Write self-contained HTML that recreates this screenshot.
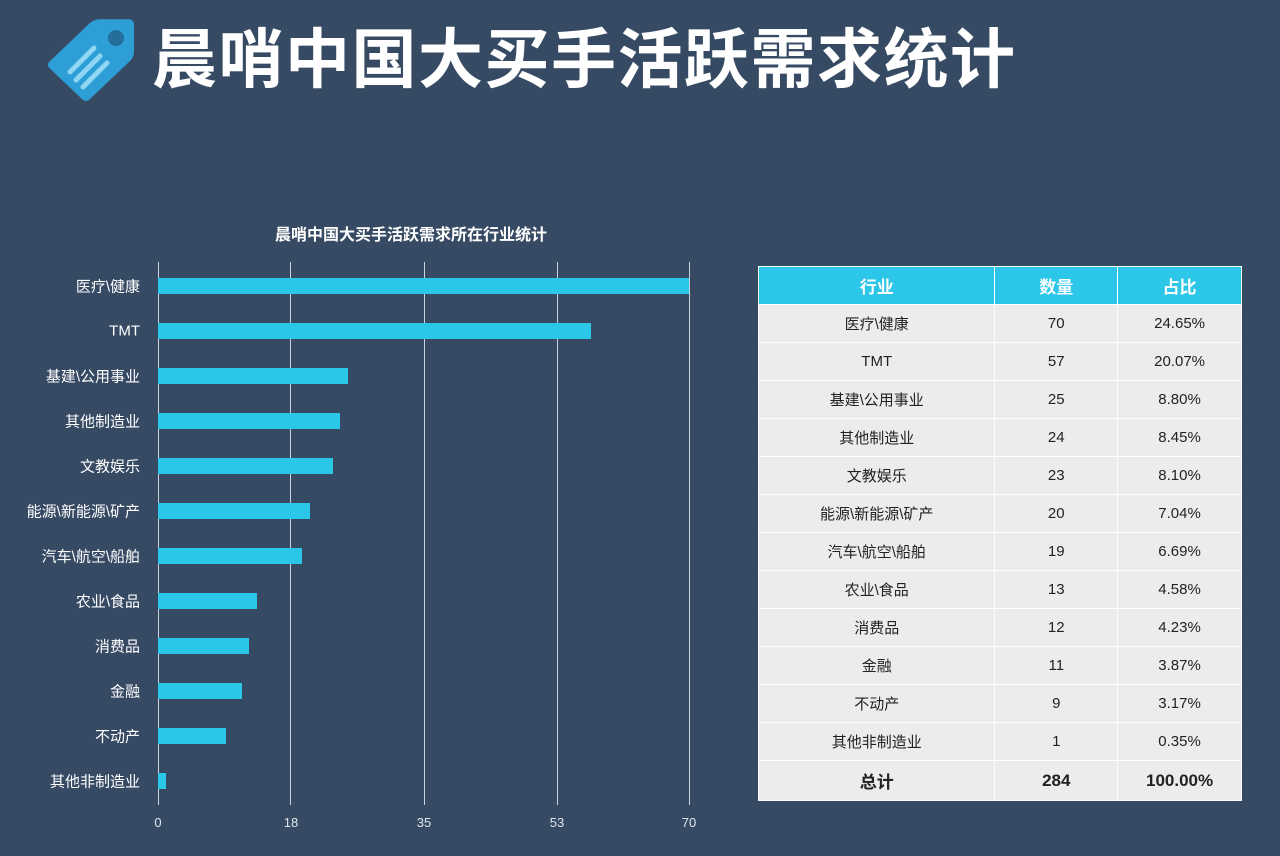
<!DOCTYPE html>
<html><head><meta charset="utf-8"><style>
body{margin:0;width:1280px;height:856px;background:#364a64;overflow:hidden;font-family:"Liberation Sans","Noto Sans CJK SC",sans-serif;position:relative}
.t{position:absolute;left:152px;top:20px;font-size:65px;font-weight:bold;color:#fff;letter-spacing:1.5px;line-height:80px;white-space:nowrap}
.ct{position:absolute;left:275px;top:221px;font-size:16px;font-weight:bold;color:#fff}
.lb{position:absolute;right:1140px;font-size:15px;color:#fff;white-space:nowrap;transform:translateY(-50%)}
.bar{position:absolute;left:158px;height:16px;background:#2cc6e8}
.gl{position:absolute;top:262px;height:543px;width:1px;background:#c9d3de}
.tk{position:absolute;top:815px;font-size:13px;color:#e0e6ee;transform:translateX(-50%)}
table{position:absolute;left:758px;top:266px;width:484px;border-collapse:collapse;font-size:15px;color:#222}
td{text-align:center;height:37px;padding:0;border:1px solid #fff;background:#ececec}
tr.h td{background:#2cc6e8;color:#fff;font-weight:bold;font-size:17px;height:37px}
tr.f td{font-weight:bold;font-size:17px;height:39px}
</style></head><body>
<svg style="position:absolute;left:40px;top:14px" width="100" height="100" viewBox="0 0 100 100">
<path d="M10 60 L50 20 Q54 16 60 16 L88 16 Q94 16 94 22 L94 50 Q94 56 90 60 L50 100 Q46 104 42 100 L10 68 Q6 64 10 60Z" fill="#2e9fd6" transform="translate(0,-10) scale(1,0.95)"/>
<circle cx="76" cy="24" r="8" fill="#236e9a"/>
<g stroke="#8fd6f3" stroke-width="5" stroke-linecap="round"><line x1="30" y1="58" x2="54" y2="34"/><line x1="36" y1="66" x2="60" y2="42"/><line x1="43" y1="73" x2="67" y2="49"/></g>
</svg>
<div class="t">晨哨中国大买手活跃需求统计</div>
<div class="ct">晨哨中国大买手活跃需求所在行业统计</div>
<div class="gl" style="left:158px"></div><div class="gl" style="left:290px"></div><div class="gl" style="left:424px"></div><div class="gl" style="left:557px"></div><div class="gl" style="left:689px"></div>
<div class="tk" style="left:158px">0</div><div class="tk" style="left:291px">18</div><div class="tk" style="left:424px">35</div><div class="tk" style="left:557px">53</div><div class="tk" style="left:689px">70</div>
<div class="bar" style="top:278px;width:531px"></div><div class="lb" style="top:286px">医疗\健康</div>
<div class="bar" style="top:323px;width:433px"></div><div class="lb" style="top:331px">TMT</div>
<div class="bar" style="top:368px;width:190px"></div><div class="lb" style="top:376px">基建\公用事业</div>
<div class="bar" style="top:413px;width:182px"></div><div class="lb" style="top:421px">其他制造业</div>
<div class="bar" style="top:458px;width:175px"></div><div class="lb" style="top:466px">文教娱乐</div>
<div class="bar" style="top:503px;width:152px"></div><div class="lb" style="top:511px">能源\新能源\矿产</div>
<div class="bar" style="top:548px;width:144px"></div><div class="lb" style="top:556px">汽车\航空\船舶</div>
<div class="bar" style="top:593px;width:99px"></div><div class="lb" style="top:601px">农业\食品</div>
<div class="bar" style="top:638px;width:91px"></div><div class="lb" style="top:646px">消费品</div>
<div class="bar" style="top:683px;width:84px"></div><div class="lb" style="top:691px">金融</div>
<div class="bar" style="top:728px;width:68px"></div><div class="lb" style="top:736px">不动产</div>
<div class="bar" style="top:773px;width:8px"></div><div class="lb" style="top:781px">其他非制造业</div>
<table>
<colgroup><col style="width:237px"><col style="width:123px"><col style="width:124px"></colgroup>
<tr class="h"><td>行业</td><td>数量</td><td>占比</td></tr>
<tr><td>医疗\健康</td><td>70</td><td>24.65%</td></tr>
<tr><td>TMT</td><td>57</td><td>20.07%</td></tr>
<tr><td>基建\公用事业</td><td>25</td><td>8.80%</td></tr>
<tr><td>其他制造业</td><td>24</td><td>8.45%</td></tr>
<tr><td>文教娱乐</td><td>23</td><td>8.10%</td></tr>
<tr><td>能源\新能源\矿产</td><td>20</td><td>7.04%</td></tr>
<tr><td>汽车\航空\船舶</td><td>19</td><td>6.69%</td></tr>
<tr><td>农业\食品</td><td>13</td><td>4.58%</td></tr>
<tr><td>消费品</td><td>12</td><td>4.23%</td></tr>
<tr><td>金融</td><td>11</td><td>3.87%</td></tr>
<tr><td>不动产</td><td>9</td><td>3.17%</td></tr>
<tr><td>其他非制造业</td><td>1</td><td>0.35%</td></tr>
<tr class="f"><td>总计</td><td>284</td><td>100.00%</td></tr>
</table>
</body></html>
